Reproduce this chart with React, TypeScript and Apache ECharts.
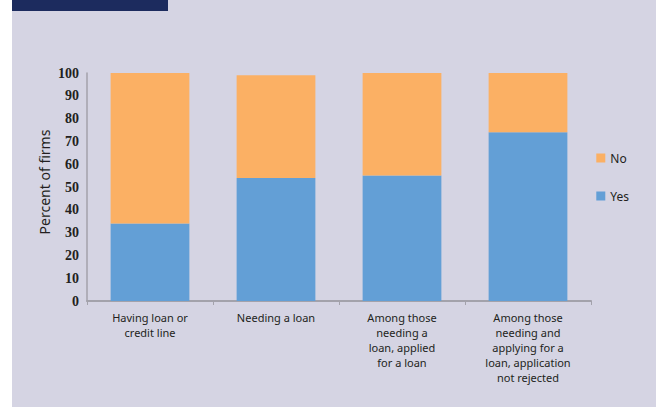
import React, { useEffect, useRef } from "react";
import * as echarts from "echarts";

const categories = [
  "Having loan or\ncredit line",
  "Needing a loan",
  "Among those\nneeding a\nloan, applied\nfor a loan",
  "Among those\nneeding and\napplying for a\nloan, application\nnot rejected",
];
const yesValues = [34, 54, 55, 74];
const noValues = [66, 45, 45, 26];
const seriesNames = ["Yes", "No"];
const legendOrder = ["No", "Yes"];
const yTitle = "Percent of firms";

export default function App() {
  const ref = useRef<HTMLDivElement>(null);
  useEffect(() => {
    if (!ref.current) return;
    const chart = echarts.init(ref.current, null, { renderer: "svg" });
    chart.setOption({
      animation: false,
      backgroundColor: "#ffffff",
      graphic: [
        { type: "rect", z: -10, shape: { x: 12, y: 0, width: 644, height: 407 }, style: { fill: "#d5d4e3" } },
        { type: "rect", z: -5, shape: { x: 12, y: 0, width: 156, height: 11 }, style: { fill: "#1c2b5e" } },
        {
          type: "text",
          x: 44,
          y: 182,
          rotation: Math.PI / 2,
          style: {
            text: yTitle,
            fill: "#231f20",
            font: "14px 'Noto Sans'",
            align: "center",
            verticalAlign: "middle",
          },
        },
      ],
      grid: { left: 87, right: 65, top: 73, bottom: 106, containLabel: false },
      legend: {
        orient: "vertical",
        right: 22,
        top: 147,
        data: legendOrder,
        itemWidth: 9,
        itemHeight: 9,
        itemGap: 26,
        icon: "rect",
        textStyle: { fontFamily: "Noto Sans", fontSize: 12, color: "#231f20" },
      },
      xAxis: {
        type: "category",
        data: categories,
        axisLine: { show: true, lineStyle: { color: "#a3a2ab", width: 2 } },
        axisTick: { show: true, length: 4, lineStyle: { color: "#a3a2ab" } },
        axisLabel: {
          interval: 0,
          fontFamily: "Noto Sans",
          fontSize: 11,
          lineHeight: 15,
          color: "#231f20",
          margin: 9,
        },
      },
      yAxis: {
        type: "value",
        min: 0,
        max: 100,
        interval: 10,
        axisLine: { show: true, lineStyle: { color: "#a3a2ab", width: 1.5 } },
        axisTick: { show: false },
        splitLine: { show: false },
        axisLabel: {
          fontFamily: "Liberation Serif",
          fontWeight: "bold",
          fontSize: 14,
          color: "#231f20",
          margin: 8,
        },
      },
      series: [
        {
          name: seriesNames[0],
          type: "bar",
          stack: "total",
          data: yesValues,
          barWidth: "62.5%",
          itemStyle: { color: "#639fd6" },
        },
        {
          name: seriesNames[1],
          type: "bar",
          stack: "total",
          data: noValues,
          barWidth: "62.5%",
          itemStyle: { color: "#fbb064" },
        },
      ],
    });
    return () => chart.dispose();
  }, []);
  return <div ref={ref} style={{ position: "fixed", left: 0, top: 0, width: 656, height: 407 }} />;
}
